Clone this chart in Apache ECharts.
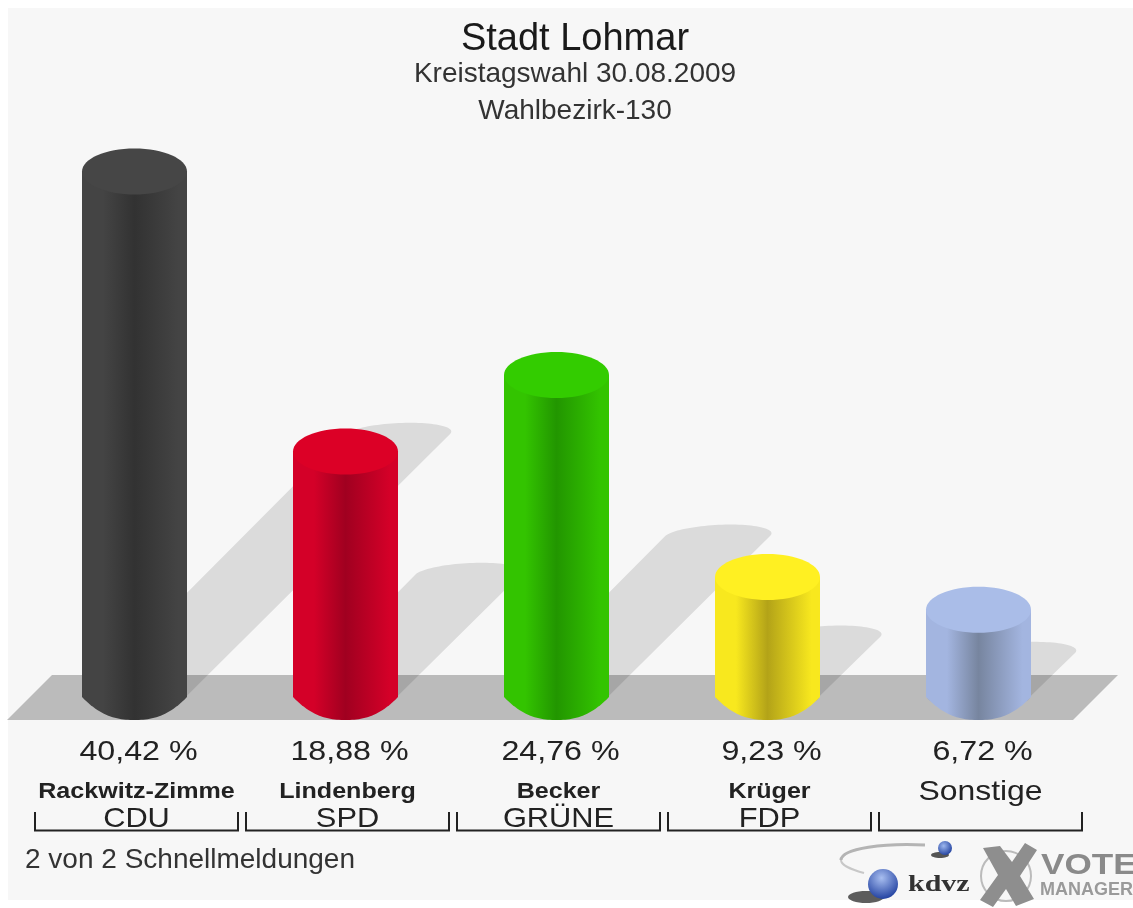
<!DOCTYPE html>
<html>
<head>
<meta charset="utf-8">
<title>Stadt Lohmar</title>
<script src="https://cdn.jsdelivr.net/npm/echarts@6/dist/echarts.min.js"></script>
<style>
  html, body { margin: 0; padding: 0; background: #fff; }
  #chart { width: 1133px; height: 908px; }
</style>
</head>
<body>
<div id="chart"></div>
<script>
var candidates = ['Rackwitz-Zimme', 'Lindenberg', 'Becker', 'Krüger', 'Sonstige']
var parties = ['CDU', 'SPD', 'GRÜNE', 'FDP', '']
var shares = [40.42, 18.88, 24.76, 9.23, 6.72]
var shareLabels = ['40,42 %', '18,88 %', '24,76 %', '9,23 %', '6,72 %']
var topColors = ['#464646', '#dc0026', '#33cc00', '#fff022', '#aabde8']
var sideColors = ['#444444', '#d40028', '#33c400', '#f8e81e', '#a3b5e0']
var darkColors = ['#323232', '#a00020', '#229600', '#b3a318', '#77859f']

var FONT = '"Liberation Sans", Arial, sans-serif'
var RY = 23

// shadow falls at 45 degrees, half the height of the column, its disc is sheared
function renderShadow (params, api) {
  var base = api.coord([api.value(0), 0])
  var half = api.coord([api.value(0), api.value(1) / 2])
  var d = base[1] - half[1]
  var rx = api.size([1, 0])[0] * 105 / 211 / 2
  var ry = RY / 2
  var shear = 13
  var a0 = Math.atan2(ry - shear, rx)
  var pts = []
  for (var i = 0; i <= 96; i++) {
    var a = a0 + Math.PI * 2 * i / 96
    // first half runs under the column foot, second half is the far end
    if (i <= 48) {
      pts.push([base[0] + (rx - 1) * Math.cos(a), base[1] + ry * Math.sin(a)])
    } else {
      pts.push([
        base[0] + d + rx * Math.cos(a) - shear * Math.sin(a),
        base[1] - d + ry * Math.sin(a)
      ])
    }
  }
  return {
    type: 'polygon',
    shape: { points: pts },
    style: { fill: 'rgba(0,0,0,0.11)' }
  }
}

function renderColumn (params, api) {
  var i = api.value(0)
  var base = api.coord([i, 0])
  var head = api.coord([i, api.value(1)])
  var rx = api.size([1, 0])[0] * 105 / 211 / 2
  var body = [[base[0] - rx, head[1]], [base[0] + rx, head[1]]]
  // foot of the column comes to a soft corner, flatter than an ellipse
  for (var k = 0; k <= 48; k++) {
    var t = 1 - 2 * k / 48
    body.push([base[0] + rx * t, base[1] + RY * (1 - Math.pow(Math.abs(t), 2.4))])
  }
  return {
    type: 'group',
    children: [{
      type: 'polygon',
      shape: { points: body },
      style: {
        fill: new echarts.graphic.LinearGradient(0, 0, 1, 0, [
          { offset: 0, color: sideColors[i] },
          { offset: 0.2, color: sideColors[i] },
          { offset: 0.5, color: darkColors[i] },
          { offset: 0.92, color: sideColors[i] },
          { offset: 1, color: sideColors[i] }
        ])
      }
    }, {
      type: 'ellipse',
      shape: { cx: head[0], cy: head[1], rx: rx, ry: RY },
      style: { fill: topColors[i] }
    }]
  }
}

function renderLabels (params, api) {
  var i = api.value(0)
  var x = api.coord([i, 0])[0]
  var w = api.size([1, 0])[0] * 203 / 211 / 2
  var cx = x + 2
  return {
    type: 'group',
    children: [{
      type: 'text', x: cx + 2, y: 752, scaleX: 1.15,
      style: { text: shareLabels[i], font: '28px ' + FONT, fill: '#222', align: 'center', verticalAlign: 'middle' }
    }, {
      type: 'text', x: cx, y: 792, scaleX: 1.14,
      style: i === 4
        ? { text: candidates[i], font: '28px ' + FONT, fill: '#222', align: 'center', verticalAlign: 'middle' }
        : { text: candidates[i], font: 'bold 22px ' + FONT, fill: '#222', align: 'center', verticalAlign: 'middle' }
    }, {
      type: 'text', x: cx, y: 819, scaleX: 1.1,
      style: { text: parties[i], font: '28px ' + FONT, fill: '#222', align: 'center', verticalAlign: 'middle' }
    }, {
      type: 'polyline',
      shape: { points: [[cx - w, 812], [cx - w, 830.5], [cx + w, 830.5], [cx + w, 812]] },
      style: { stroke: '#222', lineWidth: 2, fill: null }
    }]
  }
}

var columnData = shares.map(function (v, i) { return [i, v] })

var chart = echarts.init(document.getElementById('chart'), null, { renderer: 'canvas' })
chart.setOption({
  animation: false,
  backgroundColor: '#ffffff',
  title: {
    text: 'Stadt Lohmar',
    subtext: 'Kreistagswahl 30.08.2009\nWahlbezirk-130',
    left: 570,
    textAlign: 'center',
    top: 16,
    itemGap: -3,
    textStyle: { fontFamily: FONT, fontSize: 38, fontWeight: 'normal', color: '#1a1a1a' },
    subtextStyle: { fontFamily: FONT, fontSize: 28, color: '#333', lineHeight: 37 }
  },
  grid: { left: 29, top: 47, width: 1055, height: 650 },
  xAxis: { type: 'category', data: candidates, show: false },
  yAxis: { type: 'value', min: 0, max: 50, show: false },
  graphic: [
    { type: 'rect', z: -10, shape: { x: 8, y: 8, width: 1125, height: 892 }, style: { fill: '#f7f7f7' } },
    { type: 'polygon', z: -9, shape: { points: [[7, 720], [52, 675], [1118, 675], [1073, 720]] }, style: { fill: '#bbbbbb' } },
    { type: 'text', x: 25, y: 860, style: { text: '2 von 2 Schnellmeldungen', font: '28px ' + FONT, fill: '#333', verticalAlign: 'middle' } },
    // kdvz logo
    { type: 'bezierCurve', shape: { x1: 925, y1: 845, cpx1: 885, cpy1: 843, cpx2: 842, cpy2: 848, x2: 841, y2: 860 }, style: { stroke: '#b4b4b4', lineWidth: 3, fill: null } },
    { type: 'bezierCurve', shape: { x1: 841, y1: 860, cpx1: 841, cpy1: 865, cpx2: 852, cpy2: 870, x2: 864, y2: 873 }, style: { stroke: '#c8c8c8', lineWidth: 2, fill: null } },
    { type: 'ellipse', shape: { cx: 940, cy: 855, rx: 9, ry: 3 }, style: { fill: '#555' } },
    { type: 'circle', shape: { cx: 945, cy: 848, r: 7 }, style: { fill: new echarts.graphic.RadialGradient(0.4, 0.35, 0.7, [{ offset: 0, color: '#9db7ee' }, { offset: 1, color: '#1f3f9e' }]) } },
    { type: 'ellipse', shape: { cx: 866, cy: 897, rx: 18, ry: 6 }, style: { fill: 'rgba(40,40,40,0.75)' } },
    { type: 'circle', shape: { cx: 883, cy: 884, r: 15 }, style: { fill: new echarts.graphic.RadialGradient(0.45, 0.3, 0.75, [{ offset: 0, color: '#a8bef0' }, { offset: 1, color: '#1a3a9c' }]) } },
    { type: 'text', x: 908, y: 885, scaleX: 1.25, style: { text: 'kdvz', font: 'bold 24px "Liberation Serif", serif', fill: '#333', verticalAlign: 'middle' } },
    // vote manager logo
    { type: 'circle', shape: { cx: 1006, cy: 876, r: 25 }, style: { fill: null, stroke: '#bbb', lineWidth: 2 } },
    { type: 'polygon', shape: { points: [[983, 848], [1000, 846], [1012, 862], [1025, 843], [1037, 850], [1020, 876], [1034, 899], [1016, 906], [1006, 889], [993, 907], [980, 900], [998, 875]] }, style: { fill: '#8e8e8e' } },
    { type: 'text', x: 1041, y: 866, scaleX: 1.17, style: { text: 'VOTE', font: 'bold 30px ' + FONT, fill: '#8a8a8a', verticalAlign: 'middle' } },
    { type: 'text', x: 1040, y: 890, style: { text: 'MANAGER', font: 'bold 18px ' + FONT, fill: '#9a9a9a', verticalAlign: 'middle' } }
  ],
  series: [
    { type: 'custom', name: 'Schatten', z: 1, renderItem: renderShadow, encode: { x: 0, y: 1 }, data: columnData, clip: false, silent: true },
    { type: 'custom', name: 'Stimmen', z: 2, renderItem: renderColumn, encode: { x: 0, y: 1 }, data: columnData, clip: false },
    { type: 'custom', name: 'Beschriftung', z: 3, renderItem: renderLabels, encode: { x: 0, y: 1 }, data: columnData, clip: false, silent: true }
  ]
})
</script>
</body>
</html>
